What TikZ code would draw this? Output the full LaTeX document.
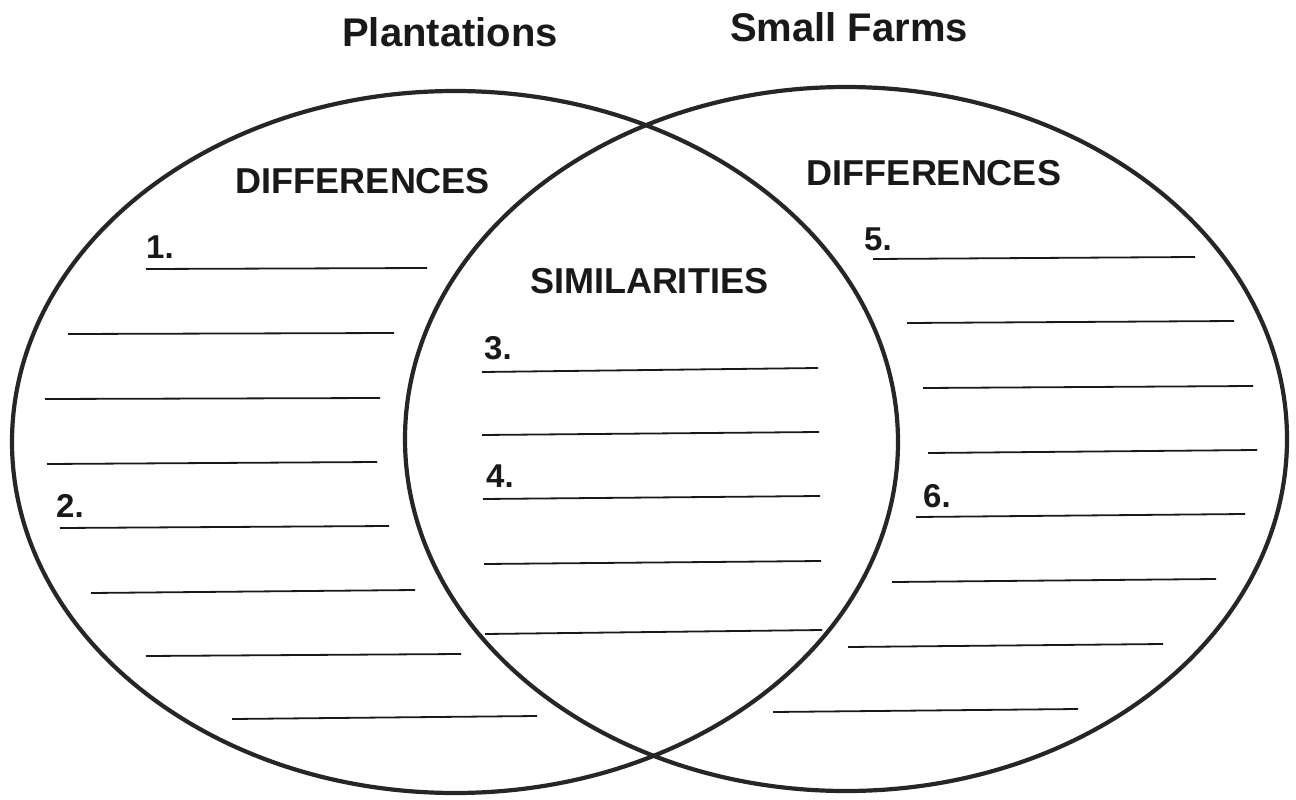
\documentclass[tikz,border=0pt]{standalone}
\usepackage{fontspec}
\setmainfont{Liberation Sans}
\begin{document}
\begin{tikzpicture}[x=1pt,y=-1pt,
  ring/.style={draw=black!85,line width=4.2pt},
  blank/.style={draw=black!90,line width=1.8pt},
  title/.style={inner sep=0pt,anchor=base,font=\fontsize{40}{40}\selectfont\bfseries,text=black!90},
  heading/.style={inner sep=0pt,anchor=base,font=\fontsize{36}{36}\selectfont\bfseries,text=black!90},
  num/.style={inner sep=0pt,anchor=base west,font=\fontsize{33}{33}\selectfont\bfseries,text=black!90}]
\useasboundingbox[fill=white] (0,0) rectangle (1296,800);
% circles
\draw[ring] (455,442) ellipse [x radius=443, y radius=351];
\draw[ring] (846,439) ellipse [x radius=441, y radius=352];
% titles
\node[title] (tplant) at (450,47) {Plantations};
\node[title] (tsmall) at (849,42) {Small Farms};
% headings
\node[heading] (hdl) at (363,193) {DIFFERENCES};
\node[heading] (hdr) at (934,185) {DIFFERENCES};
\node[heading] (hsim) at (649,293) {SIMILARITIES};
% numbers
\node[num] (n1) at (146,258) {1.};
\node[num] (n2) at (56,517) {2.};
\node[num] (n3) at (484,359) {3.};
\node[num] (n4) at (486,487) {4.};
\node[num] (n5) at (864,250) {5.};
\node[num] (n6) at (923,507) {6.};
% left blanks
\draw[blank] (146,269) -- (427,268);
\draw[blank] (68,334) -- (394,333);
\draw[blank] (45,399) -- (380,398);
\draw[blank] (47,464) -- (377,462);
\draw[blank] (60,528) -- (389,526);
\draw[blank] (91,593) -- (415,590);
\draw[blank] (146,656) -- (461,654);
\draw[blank] (232,719) -- (537,716);
% middle blanks
\draw[blank] (482,372) -- (818,368);
\draw[blank] (482,435) -- (819,432);
\draw[blank] (483,499) -- (820,496);
\draw[blank] (484,564) -- (821,561);
\draw[blank] (485,634) -- (822,630);
% right blanks
\draw[blank] (873,259) -- (1195,257);
\draw[blank] (907,323) -- (1234,321);
\draw[blank] (923,388) -- (1253,386);
\draw[blank] (928,453) -- (1257,450);
\draw[blank] (916,517) -- (1245,514);
\draw[blank] (892,582) -- (1216,579);
\draw[blank] (848,647) -- (1163,644);
\draw[blank] (773,712) -- (1078,709);
\end{tikzpicture}
\end{document}
